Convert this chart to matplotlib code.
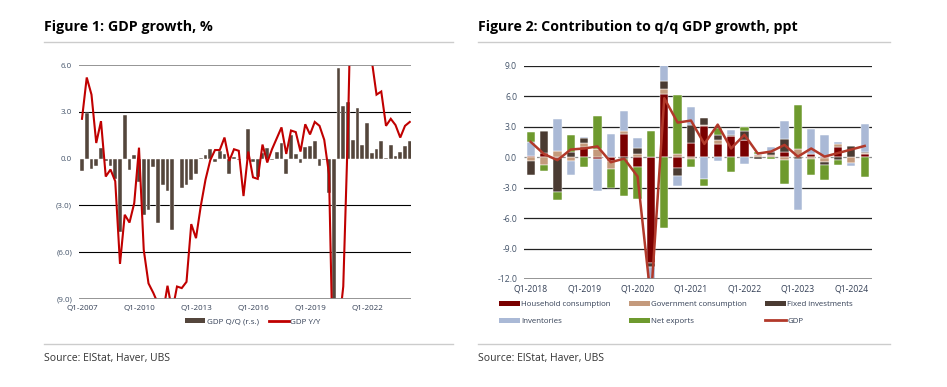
import matplotlib
matplotlib.use("Agg")
import matplotlib.pyplot as plt
import numpy as np
from matplotlib.lines import Line2D
from matplotlib.patches import Patch

plt.rcParams['font.family'] = ['Open Sans', 'DejaVu Sans']

W, H = 947, 387

# ---------------- Figure 1 data ----------------
gdp_qq = [-0.8, 2.9, -0.65, -0.5, 0.65, -0.15, -0.5, -1.3, -4.7, 2.8,
          -0.75, 0.2, -1.5, -3.6, -3.3, -0.55, -4.1, -1.7, -2.1, -4.6,
          -0.05, -1.9, -1.7, -1.4, -1.0, 0.05, 0.2, 0.6, -0.2, 0.5,
          0.3, -1.0, 0.1, -0.1, 0.0, 1.9, -0.2, -1.2, 0.35, 0.7,
          -0.1, 0.4, 1.0, -1.0, 1.5, 0.3, -0.3, 0.75, 0.8, 1.1,
          -0.5, -0.1, -2.2, -14.0, 5.8, 3.4, 3.65, 1.2, 3.25, 0.85,
          2.25, 0.35, 0.6, 1.15, 0.05, 0.9, 0.15, 0.4, 0.8, 1.1]
gdp_yy = [2.55, 5.2, 4.1, 1.0, 2.4, -1.15, -0.7, -1.45, -6.75, -3.6,
          -4.1, -2.85, 0.7, -5.85, -8.0, -8.6, -9.3, -10.0, -8.15, -9.8,
          -8.2, -8.3, -7.9, -4.2, -5.1, -3.05, -1.35, -0.1, 0.55, 0.55,
          1.35, -0.15, 0.6, 0.5, -2.4, 0.45, -1.2, -1.3, 0.9, -0.25,
          0.6, 1.3, 2.0, 0.3, 1.8, 1.7, 0.45, 2.2, 1.55, 2.35,
          2.1, 1.2, -1.0, -15.5, -11.0, -8.2, 2.0, 16.0, 12.0, 9.0,
          8.0, 6.3, 4.1, 4.3, 2.1, 2.55, 2.15, 1.35, 2.1, 2.35]
fig1_xticklabels = ['Q1-2007', 'Q1-2010', 'Q1-2013', 'Q1-2016', 'Q1-2019', 'Q1-2022']
fig1_yticks = [6, 3, 0, -3, -6, -9]
fig1_yticklabels = ['6.0', '3.0', '0.0', '(3.0)', '(6.0)', '(9.0)']

# ---------------- Figure 2 data ----------------
household = [0.1, 0.4, -0.1, 0.0, 1.0, -0.15, -0.4, 2.3, -1.0, -10.4,
             6.2, -1.1, 1.35, 3.05, 1.25, 2.05, 1.65, 0.0, 0.0, 0.5,
             0.0, 0.35, -0.1, 1.0, 0.0, 0.3]
government = [-0.4, -0.8, 0.6, -0.35, 0.4, 0.8, -0.8, 0.25, 0.35, 0.0,
              0.5, 0.3, -0.2, 0.15, 0.4, 0.0, 0.0, 0.2, 0.25, -0.25,
              0.8, -0.2, -0.4, 0.25, -0.6, 0.15]
fixed_inv = [-1.4, 2.2, -3.3, 0.5, 0.5, 0.0, 0.0, -0.2, 0.55, -0.4,
             0.8, -0.8, 1.85, 0.7, 0.5, 0.15, 0.9, -0.2, 0.25, 1.25,
             -0.2, 0.0, -0.25, -0.3, 1.1, 0.1]
inventories = [1.4, 0.0, 3.2, -1.4, 0.1, -3.15, 2.3, 2.0, 1.0, -1.5,
               1.6, -0.95, 1.7, -2.2, -0.35, 0.45, -0.7, 0.15, 0.5, 1.8,
               -5.0, 2.45, 2.2, 0.2, -0.3, 2.75]
net_exports = [1.0, -0.6, -0.8, 1.65, -0.95, 3.2, -1.8, -3.6, -3.15, 2.6,
               -7.0, 5.8, -0.75, -0.6, 0.7, -1.5, 0.45, 0.15, -0.2, -2.35,
               4.35, -1.6, -1.5, -0.5, 0.0, -2.0]
gdp_q = [1.5, 0.3, -0.3, 0.75, 0.85, 1.05, -0.5, -0.15, -1.9, -14.0,
         5.8, 3.4, 3.6, 1.3, 3.2, 0.85, 2.2, 0.35, 0.55, 1.2,
         0.05, 0.85, 0.05, 0.4, 0.75, 1.1]
fig2_xticklabels = ['Q1-2018', 'Q1-2019', 'Q1-2020', 'Q1-2021', 'Q1-2022', 'Q1-2023', 'Q1-2024']
fig2_yticks = [9, 6, 3, 0, -3, -6, -9, -12]
fig2_yticklabels = ['9.0', '6.0', '3.0', '0.0', '-3.0', '-6.0', '-9.0', '-12.0']
series_names = ['Household consumption', 'Government consumption', 'Fixed investments',
                'Inventories', 'Net exports']

# ---------------- styling ----------------
TICK_COL = '#44546A'
LAB_COL = '#333F55'
BAR1_COL = '#54463C'
RED = '#C00000'
series_cols = ['#7A0000', '#C49A7C', '#4A3B32', '#AAB9D6', '#6E9A2E']
GDP2_COL = '#B2392A'


def fx(px):
    return px / W


def fy(py):
    return 1 - py / H


fig = plt.figure(figsize=(W / 100, H / 100), dpi=100)
fig.patch.set_facecolor('white')

# Titles and rules
fig.text(fx(44), fy(31), 'Figure 1: GDP growth, %', fontsize=10.3, fontweight='bold',
         color='black', va='baseline', ha='left')
fig.text(fx(478), fy(31), 'Figure 2: Contribution to q/q GDP growth, ppt', fontsize=10.2,
         fontweight='bold', color='black', va='baseline', ha='left')
for (x0, x1) in [(44, 453), (478, 890)]:
    fig.add_artist(Line2D([fx(x0), fx(x1)], [fy(42), fy(42)], color='#CCCCCC', lw=1.0))
    fig.add_artist(Line2D([fx(x0), fx(x1)], [fy(344), fy(344)], color='#CCCCCC', lw=1.0))
fig.text(fx(44), fy(361), 'Source: ElStat, Haver, UBS', fontsize=7.5, color='#333333',
         va='baseline', ha='left')
fig.text(fx(478), fy(361), 'Source: ElStat, Haver, UBS', fontsize=7.5, color='#333333',
         va='baseline', ha='left')

# ---------------- Figure 1 ----------------
ax1 = fig.add_axes([fx(79), fy(299), fx(411 - 79), (299 - 65) / H])
n1 = len(gdp_qq)
x1 = np.arange(n1)
ax1.bar(x1, gdp_qq, width=0.8, color=BAR1_COL, edgecolor='white', linewidth=0.3, zorder=2)
ax1.plot(x1, gdp_yy, color=RED, lw=1.5, zorder=3, solid_joinstyle='miter')
ax1.set_xlim(-0.63, 69.26)
ax1.set_ylim(-9, 6)
for v in [3, -3, -6]:
    ax1.axhline(v, color='black', lw=0.8, zorder=1)
for v in [6, -9]:
    ax1.axhline(v, color='#8C8C8C', lw=1.3, zorder=4)
for s in ax1.spines.values():
    s.set_visible(False)
ax1.set_yticks(fig1_yticks)
ax1.set_yticklabels(fig1_yticklabels)
ax1.set_xticks([0, 12, 24, 36, 48, 60])
ax1.set_xticklabels(fig1_xticklabels)
ax1.tick_params(axis='both', length=0, labelsize=5.8, colors=TICK_COL)
ax1.tick_params(axis='y', pad=5)
ax1.tick_params(axis='x', pad=4)
for lab in ax1.get_xticklabels():
    lab.set_color(LAB_COL)

leg1 = ax1.legend(handles=[Patch(facecolor=BAR1_COL, edgecolor='none', label='GDP Q/Q (r.s.)'),
                           Line2D([0], [0], color=RED, lw=2, label='GDP Y/Y')],
                  loc='center', bbox_to_anchor=(fx(253), fy(322)), bbox_transform=fig.transFigure,
                  ncol=2, frameon=False, fontsize=5.8, handlelength=2.5, handleheight=0.6,
                  columnspacing=1.2, handletextpad=0.2)
for t in leg1.get_texts():
    t.set_color(LAB_COL)

# ---------------- Figure 2 ----------------
ax2 = fig.add_axes([fx(524), fy(279), fx(872 - 524), (279 - 65.7) / H])
n2 = len(gdp_q)
x2 = np.arange(n2)
all_series = [household, government, fixed_inv, inventories, net_exports]
pos_base = np.zeros(n2)
neg_base = np.zeros(n2)
for vals, col in zip(all_series, series_cols):
    vals = np.array(vals, dtype=float)
    bottoms = np.where(vals >= 0, pos_base, neg_base)
    ax2.bar(x2, vals, bottom=bottoms, width=0.62, color=col, edgecolor='white',
            linewidth=0.35, zorder=2)
    pos_base = pos_base + np.where(vals >= 0, vals, 0)
    neg_base = neg_base + np.where(vals < 0, vals, 0)
ax2.plot(x2, gdp_q, color=GDP2_COL, lw=1.8, zorder=3)
ax2.set_xlim(-0.5, 25.55)
ax2.set_ylim(-12, 9)
for v in [9, 6, 3, -3, -6, -9]:
    ax2.axhline(v, color='#222222', lw=0.9, zorder=1)
ax2.axhline(-12, color='#8C8C8C', lw=1.3, zorder=4)
ax2.axhline(0, color='#8C8C8C', lw=0.9, ls=(0, (3, 2)), zorder=1)
for s in ax2.spines.values():
    s.set_visible(False)
ax2.set_yticks(fig2_yticks)
ax2.set_yticklabels(fig2_yticklabels)
ax2.set_xticks([0, 4, 8, 12, 16, 20, 24])
ax2.set_xticklabels(fig2_xticklabels)
ax2.tick_params(axis='both', length=0, labelsize=6.2, colors=TICK_COL)
ax2.tick_params(axis='y', pad=5)
ax2.tick_params(axis='x', pad=4)
for lab in ax2.get_xticklabels():
    lab.set_color(LAB_COL)

handles2 = [Patch(facecolor=c, edgecolor='none', label=nm) for c, nm in zip(series_cols, series_names)]
handles2.append(Line2D([0], [0], color=GDP2_COL, lw=2, label='GDP'))
order = [0, 3, 1, 4, 2, 5]
leg2 = ax2.legend(handles=[handles2[i] for i in order], loc='upper left',
                  bbox_to_anchor=(fx(492), fy(294)), bbox_transform=fig.transFigure,
                  ncol=3, frameon=False, fontsize=5.7, handlelength=2.6, handleheight=0.6,
                  columnspacing=2.3, handletextpad=0.2, labelspacing=1.15)
for t in leg2.get_texts():
    t.set_color(LAB_COL)

fig.savefig('out.png', dpi=100, facecolor='white')
